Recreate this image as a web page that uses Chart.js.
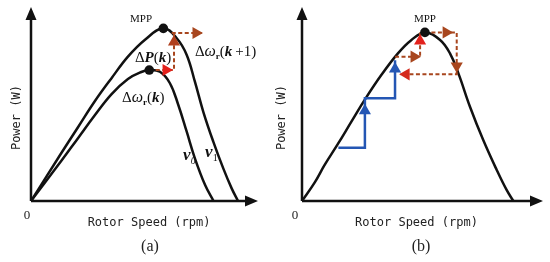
<!DOCTYPE html>
<html>
<head>
<meta charset="utf-8">
<script src="https://cdn.jsdelivr.net/npm/chart.js@4"></script>
<style>
  body { margin: 0; background: #fff; }
  .panel { position: absolute; top: 0; width: 275px; height: 262px; }
</style>
</head>
<body>
<div class="panel" style="left:0"><canvas id="chartA" width="275" height="262"></canvas></div>
<div class="panel" style="left:275px"><canvas id="chartB" width="275" height="262"></canvas></div>
<script>
// panel (a): two power curves for wind speeds v1 (outer) and v0 (inner)
const v1Speed = [0, 13.3, 20.7, 28.1, 35.4, 42.7, 50.1, 58.3, 64.2, 68.6, 72.2, 75.9, 80.3, 84.7, 88.4, 91.2];
const v1Power = [0, 24.6, 38.0, 51.4, 63.2, 74.4, 83.0, 89.0, 83.9, 75.3, 61.5, 46.0, 30.6, 16.8, 6.5, 0];
const v0Speed = [0, 13.3, 20.7, 28.1, 35.4, 42.7, 48.6, 52.1, 56.8, 61.2, 64.9, 68.6, 72.2, 76.7, 80.4];
const v0Power = [0, 20.6, 32.4, 44.2, 55.0, 62.9, 66.5, 67.5, 66.6, 60.7, 49.5, 35.7, 22.0, 8.2, 0];
const stepASpeed = [52.1, 63.0, 63.0];
const stepAPower = [67.5, 67.5, 86.6];
const jumpASpeed = [62.0, 75.8];
const jumpAPower = [86.6, 86.6];
const headASpeed = [59.5, 63.0, 72.7];
const headAPower = [67.5, 82.0, 86.6];
const headARot = [90, 0, 90];
const headAColor = ['#e3211c', '#b0401e', '#a8461e'];
const dotASpeed = [58.3, 52.1];
const dotAPower = [89.0, 67.5];

// panel (b): single power curve with hill-climb steps
const curveBSpeed = [0, 5.3, 9.4, 14.9, 20.5, 26.0, 32.9, 39.8, 45.3, 51.0, 57.3, 61.4, 64.9, 69.7, 75.2, 80.8, 84.9, 87.7];
const curveBPower = [0, 9.6, 18.6, 29.4, 40.9, 52.1, 64.9, 76.1, 82.9, 86.9, 83.0, 76.1, 65.8, 48.6, 31.4, 16.0, 5.7, 0];
const blueSpeed = [15.1, 26.1, 26.1, 38.6, 38.6];
const bluePower = [27.5, 27.5, 52.9, 52.9, 72.5];
const blueHeadSpeed = [26.1, 38.6];
const blueHeadPower = [46.5, 68.0];
const dashBSpeed = [38.6, 49.0, 49.0];
const dashBPower = [74.4, 74.4, 86.9];
const loopBSpeed = [51.0, 64.2, 64.2, 40.7];
const loopBPower = [86.9, 86.9, 65.3, 65.3];
const headBSpeed = [46.5, 49.0, 59.8, 64.2, 43.2];
const headBPower = [74.4, 82.5, 86.9, 69.6, 65.3];
const headBRot = [90, 0, 90, 180, 270];
const headBColor = ['#a8461e', '#e3211c', '#a8461e', '#a8461e', '#d42a1e'];
const dotBSpeed = [51.0];
const dotBPower = [86.9];

const pts = (xs, ys) => xs.map((x, i) => ({ x: x, y: ys[i] }));

const SERIF = 'Liberation Serif';
const MONO = 'DejaVu Sans Mono';

const axesArrows = {
  id: 'axesArrows',
  beforeDatasetsDraw(chart) {
    const ctx = chart.ctx, a = chart.chartArea;
    ctx.save();
    ctx.strokeStyle = '#111';
    ctx.fillStyle = '#111';
    ctx.lineWidth = 2.5;
    ctx.beginPath();
    ctx.moveTo(a.left, a.bottom);
    ctx.lineTo(a.right - 8, a.bottom);
    ctx.moveTo(a.left, a.bottom);
    ctx.lineTo(a.left, a.top + 8);
    ctx.stroke();
    ctx.beginPath();
    ctx.moveTo(a.right, a.bottom);
    ctx.lineTo(a.right - 13, a.bottom - 5.5);
    ctx.lineTo(a.right - 13, a.bottom + 5.5);
    ctx.closePath();
    ctx.moveTo(a.left, a.top);
    ctx.lineTo(a.left - 5.5, a.top + 13);
    ctx.lineTo(a.left + 5.5, a.top + 13);
    ctx.closePath();
    ctx.fill();
    ctx.restore();
  }
};

// writes mixed-font labels, anchored through the scales
const notes = {
  id: 'notes',
  afterDatasetsDraw(chart, args, opts) {
    const ctx = chart.ctx, a = chart.chartArea;
    const sx = chart.scales.x, sy = chart.scales.y;
    ctx.save();
    ctx.fillStyle = '#111';
    ctx.textBaseline = 'alphabetic';
    (opts.items || []).forEach(item => {
      let width = 0;
      item.runs.forEach(r => { ctx.font = r[1]; width += ctx.measureText(r[0]).width + (r[3] || 0); });
      let x = sx.getPixelForValue(item.x);
      const y = sy.getPixelForValue(item.y);
      if (item.align === 'center') x -= width / 2;
      item.runs.forEach(r => {
        ctx.font = r[1];
        ctx.fillText(r[0], x, y + (r[2] || 0));
        x += ctx.measureText(r[0]).width + (r[3] || 0);
      });
    });
    // axis titles, origin and panel tag
    ctx.fillStyle = '#222';
    ctx.textAlign = 'center';
    ctx.textBaseline = 'middle';
    ctx.font = '12px ' + MONO;
    ctx.fillText('Rotor Speed (rpm)', sx.getPixelForValue(opts.titleX), a.bottom + 22);
    ctx.font = '13px ' + SERIF;
    ctx.fillText('0', a.left + opts.zeroDx, a.bottom + 15);
    ctx.font = '16px ' + SERIF;
    ctx.fillText(opts.tag, sx.getPixelForValue(opts.tagX), a.bottom + 46);
    ctx.translate(a.left + opts.powerDx, sy.getPixelForValue(43));
    ctx.rotate(-Math.PI / 2);
    ctx.font = '12px ' + MONO;
    ctx.fillText('Power (W)', 0, 0);
    ctx.restore();
  }
};

function curve(data, color, width, dash) {
  return {
    data: data, showLine: true, borderColor: color, borderWidth: width,
    borderDash: dash || [], pointRadius: 0, tension: 0.4,
    fill: false, order: 5
  };
}
function steps(data, color, width, dash) {
  return {
    data: data, showLine: true, borderColor: color, borderWidth: width,
    borderDash: dash || [], pointRadius: 0, tension: 0, fill: false, order: 3
  };
}
function heads(data, rot, colors) {
  return {
    data: data, showLine: false, pointStyle: 'triangle', pointRadius: 7,
    pointRotation: rot, backgroundColor: colors, borderColor: colors,
    borderWidth: 0, order: 1
  };
}
function dots(data) {
  return {
    data: data, showLine: false, pointStyle: 'circle', pointRadius: 4.8,
    backgroundColor: '#111', borderColor: '#111', borderWidth: 0, order: 0
  };
}

function baseOptions(pad, noteOpts) {
  return {
    responsive: false,
    animation: false,
    devicePixelRatio: 1,
    layout: { padding: pad },
    events: [],
    scales: {
      x: { type: 'linear', min: 0, max: 100, display: false },
      y: { type: 'linear', min: 0, max: 100, display: false }
    },
    plugins: { legend: { display: false }, tooltip: { enabled: false }, notes: noteOpts }
  };
}

const BROWN = '#a8461e';
const DASH = [4, 2.5];
const greek = (s) => 'italic ' + s + 'px ' + SERIF;
const bi = (s) => 'italic bold ' + s + 'px ' + SERIF;
const rm = (s) => s + 'px ' + SERIF;

new Chart(document.getElementById('chartA'), {
  type: 'scatter',
  data: {
    datasets: [
      curve(pts(v1Speed, v1Power), '#111', 2.5),
      curve(pts(v0Speed, v0Power), '#111', 2.5),
      steps(pts(stepASpeed, stepAPower), BROWN, 2, DASH),
      steps(pts(jumpASpeed, jumpAPower), BROWN, 2, DASH),
      heads(pts(headASpeed, headAPower), headARot, headAColor),
      dots(pts(dotASpeed, dotAPower))
    ]
  },
  options: baseOptions({ left: 31, right: 17, top: 7, bottom: 61 }, {
    titleX: 52, tagX: 52.4, zeroDx: -4, powerDx: -14, tag: '(a)',
    items: [
      { x: 48.5, y: 92.3, align: 'center', runs: [['MPP', rm(11)]] },
      { x: 45.8, y: 71.6, runs: [['Δ', rm(15)], ['P', bi(15)], ['(', rm(15)], ['k', bi(15)], [')', rm(15)]] },
      { x: 40.1, y: 51.0, runs: [['Δ', rm(15)], ['ω', greek(16)], ['r', 'bold 9px ' + SERIF, 3], ['(', rm(15)], ['k', bi(15)], [')', rm(15)]] },
      { x: 72.2, y: 74.7, runs: [['Δ', rm(15)], ['ω', greek(16)], ['r', 'bold 9px ' + SERIF, 3], ['(', rm(15)], ['k', bi(15), 0, 3], ['+1', rm(15)], [')', rm(15)]] },
      { x: 67.0, y: 21.1, runs: [['ν', bi(17)], ['0', 'italic 10px ' + SERIF, 4]] },
      { x: 76.7, y: 22.7, runs: [['ν', bi(17)], ['1', rm(10), 4]] }
    ]
  }),
  plugins: [axesArrows, notes]
});

new Chart(document.getElementById('chartB'), {
  type: 'scatter',
  data: {
    datasets: [
      curve(pts(curveBSpeed, curveBPower), '#111', 2.5),
      steps(pts(blueSpeed, bluePower), '#2456b4', 2.5),
      steps(pts(dashBSpeed, dashBPower), BROWN, 2, DASH),
      steps(pts(loopBSpeed, loopBPower), BROWN, 2, DASH),
      heads(pts(blueHeadSpeed, blueHeadPower), [0, 0], ['#2456b4', '#2456b4']),
      heads(pts(headBSpeed, headBPower), headBRot, headBColor),
      dots(pts(dotBSpeed, dotBPower))
    ]
  },
  options: baseOptions({ left: 27, right: 7, top: 7, bottom: 61 }, {
    titleX: 47.5, tagX: 49.4, zeroDx: -7, powerDx: -20, tag: '(b)',
    items: [
      { x: 51.0, y: 92.3, align: 'center', runs: [['MPP', rm(11)]] }
    ]
  }),
  plugins: [axesArrows, notes]
});
</script>
</body>
</html>
